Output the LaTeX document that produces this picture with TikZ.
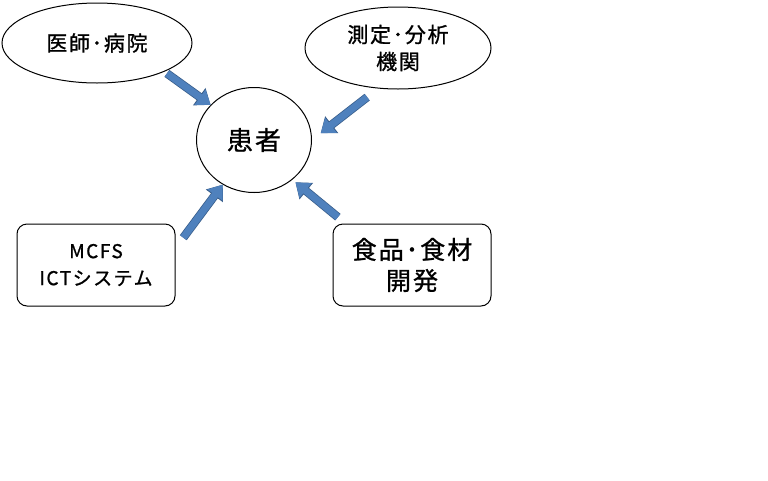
\documentclass[tikz,border=0pt]{standalone}
\usepackage{fontspec}
\setmainfont{Noto Sans CJK JP}[FakeBold=1, LetterSpace=8]
\usetikzlibrary{positioning, shapes.geometric, arrows.meta}
\definecolor{arrowblue}{HTML}{4F81BD}
\definecolor{arrowedge}{HTML}{385D8A}

\begin{document}
\begin{tikzpicture}[node distance=2cm,on grid,
  place/.style={draw,line width=1pt,inner sep=0pt,align=center},
  blockarrow/.style={line width=7pt,draw=arrowblue,-{Triangle[length=13pt,width=18pt]},
    preaction={draw=arrowedge,line width=8.5pt,-{Triangle[length=14pt,width=20.5pt]}}}]
  \useasboundingbox (0,0) rectangle (768pt,-480pt);
  % Define nodes
  \node[place, ellipse, minimum width=115pt, minimum height=105pt,
    font=\fontsize{26}{30}\selectfont] (patient) at (254pt,-140pt) {患者};  % patient in the middle
  \node[place, ellipse, minimum width=190pt, minimum height=80pt,
    font=\fontsize{21}{27}\selectfont] (doctor) [above left=97pt and 157pt of patient] {医師･病院};
  \node[place, ellipse, minimum width=186pt, minimum height=82pt,
    font=\fontsize{21}{27}\selectfont] (lab) [above right=92pt and 144pt of patient] {測定･分析\\機関};
  \node[place, rounded corners=10pt, minimum width=158pt, minimum height=82pt,
    font=\fontsize{19}{27}\selectfont] (ict) [below left=125pt and 158pt of patient] {MCFS\\ICTシステム};
  \node[place, rounded corners=10pt, minimum width=158pt, minimum height=82pt,
    font=\fontsize{25}{31}\selectfont] (food) [below right=125pt and 158pt of patient] {食品･食材\\開発};

  % Define arrows
  \draw[blockarrow, shorten <=3pt] (doctor.-23) -- (patient.141);
  \draw[blockarrow, shorten <=14pt, shorten >=11pt] (lab.244) -- (patient.0);
  \draw[blockarrow, shorten <=13pt] (ict.12) -- (patient.235);
  \draw[blockarrow, shorten <=10pt, shorten >=4pt] (food.148) -- (patient.-46);

\end{tikzpicture}
\end{document}
